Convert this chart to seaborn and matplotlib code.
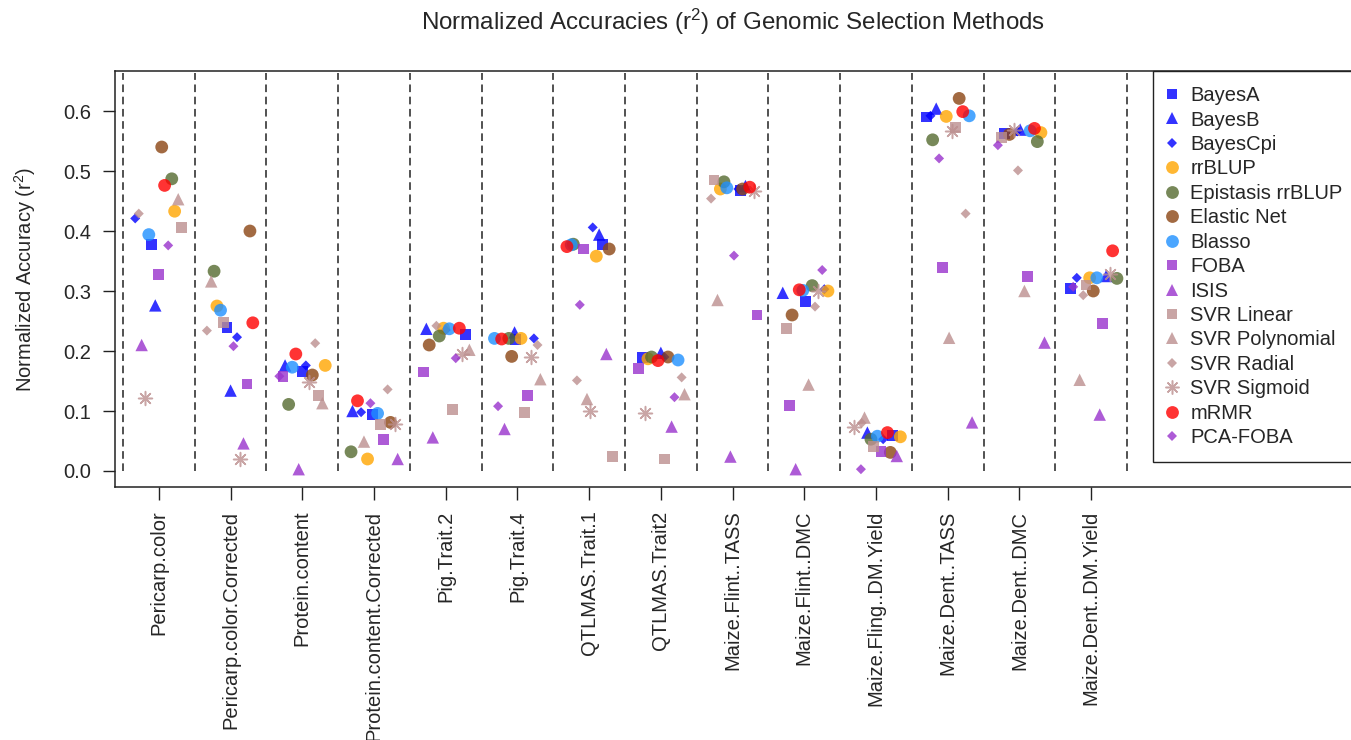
import numpy as np
import pandas as pd
import matplotlib
matplotlib.use("Agg")
import matplotlib.pyplot as plt
import seaborn as sns
from matplotlib.lines import Line2D

# ---------------- data ----------------
traits = ["Pericarp.color", "Pericarp.color.Corrected", "Protein.content",
          "Protein.content.Corrected", "Pig.Trait.2", "Pig.Trait.4",
          "QTLMAS.Trait.1", "QTLMAS.Trait2", "Maize.Flint..TASS",
          "Maize.Flint..DMC", "Maize.Fling..DM.Yield", "Maize.Dent..TASS",
          "Maize.Dent..DMC", "Maize.Dent..DM.Yield"]

methods = ["BayesA", "BayesB", "BayesCpi", "rrBLUP", "Epistasis rrBLUP",
           "Elastic Net", "Blasso", "FOBA", "ISIS", "SVR Linear",
           "SVR Polynomial", "SVR Radial", "SVR Sigmoid", "mRMR", "PCA-FOBA"]

bayesA = [0.378, 0.239, 0.166, 0.094, 0.228, 0.219, 0.378, 0.189, 0.467, 0.283, 0.059, 0.590, 0.563, 0.304]
bayesB = [0.276, 0.134, 0.176, 0.100, 0.237, 0.231, 0.394, 0.197, 0.475, 0.297, 0.064, 0.604, 0.569, 0.325]
bayesCpi = [0.421, 0.223, 0.176, 0.098, 0.235, 0.221, 0.406, 0.190, 0.470, 0.303, 0.053, 0.592, 0.566, 0.322]
rrblup = [0.433, 0.275, 0.176, 0.020, 0.238, 0.221, 0.358, 0.187, 0.470, 0.300, 0.057, 0.591, 0.564, 0.322]
epistasis = [0.487, 0.333, 0.111, 0.032, 0.225, 0.221, 0.378, 0.190, 0.482, 0.309, 0.053, 0.552, 0.549, 0.321]
elastic_net = [0.540, 0.400, 0.160, 0.081, 0.210, 0.191, 0.370, 0.190, 0.470, 0.260, 0.031, 0.621, 0.561, 0.300]
blasso = [0.394, 0.268, 0.173, 0.096, 0.237, 0.221, 0.377, 0.185, 0.472, 0.301, 0.058, 0.592, 0.567, 0.322]
foba = [0.327, 0.145, 0.158, 0.053, 0.165, 0.126, 0.370, 0.171, 0.260, 0.109, 0.033, 0.339, 0.324, 0.246]
isis = [0.210, 0.046, 0.003, 0.020, 0.056, 0.070, 0.195, 0.074, 0.024, 0.003, 0.025, 0.081, 0.214, 0.094]
svr_linear = [0.406, 0.247, 0.126, 0.077, 0.103, 0.097, 0.024, 0.020, 0.485, 0.238, 0.041, 0.572, 0.556, 0.310]
svr_poly = [0.453, 0.316, 0.113, 0.049, 0.202, 0.153, 0.120, 0.128, 0.285, 0.144, 0.089, 0.222, 0.300, 0.152]
svr_radial = [0.429, 0.234, 0.213, 0.136, 0.242, 0.210, 0.151, 0.156, 0.454, 0.274, 0.080, 0.429, 0.501, 0.293]
svr_sigmoid = [0.122, 0.020, 0.149, 0.079, 0.195, 0.190, 0.100, 0.096, 0.467, 0.300, 0.074, 0.567, 0.569, 0.328]
mrmr = [0.476, 0.247, 0.195, 0.117, 0.238, 0.220, 0.374, 0.184, 0.473, 0.302, 0.064, 0.599, 0.571, 0.367]
pca_foba = [0.376, 0.208, 0.158, 0.113, 0.188, 0.108, 0.277, 0.123, 0.359, 0.335, 0.003, 0.521, 0.543, 0.307]

# horizontal jitter of each point within its trait column
jit_bayesA = [-0.10, -0.05, 0.00, -0.02, 0.28, -0.03, 0.19, -0.26, 0.11, 0.02, 0.23, -0.30, -0.21, -0.29]
jit_bayesB = [-0.05, 0.00, -0.24, -0.30, -0.27, -0.04, 0.14, 0.00, 0.18, -0.30, -0.12, -0.16, 0.01, 0.21]
jit_bayesCpi = [-0.33, 0.09, 0.05, -0.18, 0.00, 0.23, 0.05, 0.05, 0.08, 0.28, 0.10, -0.24, -0.03, -0.20]
jit_rrblup = [0.22, -0.19, 0.32, -0.09, -0.03, 0.05, 0.10, -0.18, -0.17, 0.33, 0.34, -0.02, 0.30, -0.02]
jit_epistasis = [0.18, -0.23, -0.19, -0.32, -0.09, -0.12, -0.22, -0.13, -0.12, 0.11, -0.07, -0.21, 0.25, 0.36]
jit_elastic_net = [0.04, 0.27, 0.14, 0.23, -0.23, -0.08, 0.28, 0.10, 0.14, -0.17, 0.20, 0.16, -0.14, 0.03]
jit_blasso = [-0.14, -0.14, -0.14, 0.05, 0.05, -0.32, -0.25, 0.24, -0.08, -0.02, 0.02, 0.30, 0.15, 0.08]
jit_foba = [0.00, 0.23, -0.27, 0.13, -0.31, 0.14, -0.08, -0.31, 0.34, -0.21, 0.07, -0.07, 0.11, 0.16]
jit_isis = [-0.24, 0.18, -0.05, 0.33, -0.18, -0.18, 0.24, 0.15, -0.03, -0.12, 0.29, 0.34, 0.35, 0.12]
jit_svr_linear = [0.32, -0.10, 0.23, 0.09, 0.10, 0.10, 0.33, 0.05, -0.26, -0.25, -0.03, 0.11, -0.25, -0.07]
jit_svr_poly = [0.27, -0.27, 0.28, -0.14, 0.33, 0.32, -0.03, 0.33, -0.21, 0.06, -0.16, 0.02, 0.07, -0.16]
jit_svr_radial = [-0.28, -0.33, 0.18, 0.19, -0.13, 0.28, -0.17, 0.29, -0.30, 0.15, -0.20, 0.25, -0.02, -0.11]
jit_svr_sigmoid = [-0.19, 0.13, 0.09, 0.29, 0.23, 0.19, 0.01, -0.22, 0.30, 0.19, -0.30, 0.06, -0.07, 0.26]
jit_mrmr = [0.08, 0.31, -0.09, -0.23, 0.19, -0.22, -0.31, -0.04, 0.24, -0.07, 0.16, 0.21, 0.21, 0.30]
jit_pca_foba = [0.13, 0.04, -0.32, -0.05, 0.14, -0.27, -0.13, 0.19, 0.02, 0.25, -0.21, -0.12, -0.30, -0.25]

yticks = [0.0, 0.1, 0.2, 0.3, 0.4, 0.5, 0.6]

values = [bayesA, bayesB, bayesCpi, rrblup, epistasis, elastic_net, blasso, foba,
          isis, svr_linear, svr_poly, svr_radial, svr_sigmoid, mrmr, pca_foba]
jitters = [jit_bayesA, jit_bayesB, jit_bayesCpi, jit_rrblup, jit_epistasis,
           jit_elastic_net, jit_blasso, jit_foba, jit_isis, jit_svr_linear,
           jit_svr_poly, jit_svr_radial, jit_svr_sigmoid, jit_mrmr, jit_pca_foba]

# ---------------- styles ----------------
BLUE = "#0000FF"; ORANGE = "#FFA500"; OLIVE = "#556B2F"; BROWN = "#8B4513"
DODGER = "#1E90FF"; ORCHID = "#9932CC"; ROSY = "#BC8F8F"; RED = "#FF0000"
ASTER = (8, 2, 0)
style = {
    "BayesA": ("s", BLUE, 60), "BayesB": ("^", BLUE, 80), "BayesCpi": ("D", BLUE, 26),
    "rrBLUP": ("o", ORANGE, 85), "Epistasis rrBLUP": ("o", OLIVE, 85),
    "Elastic Net": ("o", BROWN, 85), "Blasso": ("o", DODGER, 85),
    "FOBA": ("s", ORCHID, 60), "ISIS": ("^", ORCHID, 80),
    "SVR Linear": ("s", ROSY, 60), "SVR Polynomial": ("^", ROSY, 80),
    "SVR Radial": ("D", ROSY, 26), "SVR Sigmoid": (ASTER, ROSY, 100),
    "mRMR": ("o", RED, 85), "PCA-FOBA": ("D", ORCHID, 26),
}
ALPHA = 0.8

rows = []
for m, vals, jit in zip(methods, values, jitters):
    for i, (v, d) in enumerate(zip(vals, jit)):
        rows.append({"method": m, "trait": traits[i], "x": i + 1 + d, "y": v})
df = pd.DataFrame(rows)

sns.set_style("white")
plt.rcParams["font.family"] = ["Liberation Sans", "DejaVu Sans"]
plt.rcParams["mathtext.fontset"] = "custom"
plt.rcParams["mathtext.rm"] = "Liberation Sans"
plt.rcParams["mathtext.it"] = "Liberation Sans:italic"

FS = 14.5
fig = plt.figure(figsize=(13.51, 7.40), dpi=100)
L, R, B, T = 115, 1351, 487, 71
ax = fig.add_axes([L / 1351, 1 - B / 740, (R - L) / 1351, (B - T) / 740])

ax.vlines(np.arange(0.5, 15.0, 1.0), 0, 0.663, colors="#222222",
          linestyles=(0, (5, 3)), linewidth=1.1, zorder=1)

for k, m in enumerate(methods):
    mk, col, s = style[m]
    sub = df[df["method"] == m]
    if mk == ASTER:
        sns.scatterplot(data=sub, x="x", y="y", marker=mk, s=s, color=col,
                        alpha=ALPHA, linewidth=1.1, ax=ax, zorder=3 + k, legend=False)
    else:
        sns.scatterplot(data=sub, x="x", y="y", marker=mk, s=s, color=col,
                        alpha=ALPHA, linewidth=0, edgecolor="none", ax=ax,
                        zorder=3 + k, legend=False)

ax.set_xlim(0.3884, 17.624)
ax.set_ylim(-0.02667, 0.6667)
ax.set_xticks(np.arange(1, len(traits) + 1))
ax.set_xticklabels(traits, rotation=90, fontsize=FS, va="top", ha="center")
ax.set_yticks(yticks)
ax.set_yticklabels([f"{t:.1f}" for t in yticks], fontsize=FS)
ax.tick_params(axis="both", direction="out", length=9, width=1.0, color="#222222",
               pad=8, bottom=True, left=True)
ax.set_xlabel("")
ax.set_ylabel("Normalized Accuracy (r$^{2}$)", fontsize=FS, labelpad=18)
for side in ["left", "bottom", "top"]:
    ax.spines[side].set_visible(True)
    ax.spines[side].set_color("#222222")
    ax.spines[side].set_linewidth(1.1)
ax.spines["right"].set_visible(False)

fig.text(733 / 1351, 1 - 22 / 740, "Normalized Accuracies (r$^{2}$) of Genomic Selection Methods",
         ha="center", va="center", fontsize=17.4)

handles = []
for m in methods:
    mk, col, s = style[m]
    if mk == ASTER:
        h = Line2D([], [], linestyle="none", marker=mk, markersize=np.sqrt(s),
                   markeredgecolor=col, markeredgewidth=1.1, alpha=ALPHA)
    else:
        h = Line2D([], [], linestyle="none", marker=mk, markersize=np.sqrt(s),
                   markerfacecolor=col, markeredgewidth=0, alpha=ALPHA)
    handles.append(h)
leg = ax.legend(handles, methods, loc="upper left",
                bbox_to_anchor=((1153 - L) / (R - L), 1.0), borderaxespad=0,
                frameon=True, fancybox=False, framealpha=1, edgecolor="#222222",
                fontsize=FS, labelspacing=0.27, handlelength=0.4, handletextpad=0.7,
                borderpad=0.75)
leg.get_frame().set_linewidth(1.0)
leg.set_zorder(30)

fig.savefig("out.png", dpi=100)
